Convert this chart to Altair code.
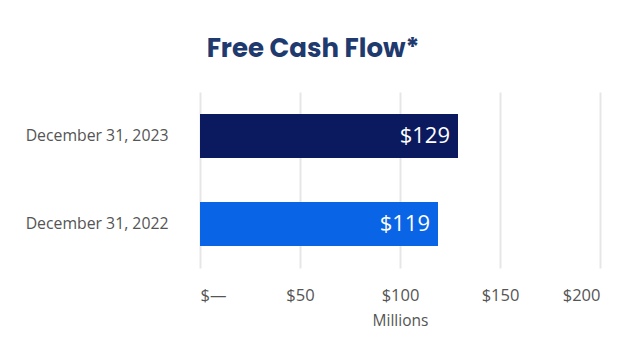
import altair as alt
import pandas as pd

categories = ["December 31, 2023", "December 31, 2022"]
values = [129, 119]
labels = ["$129", "$119"]
colors = ["#0b1a5e", "#0a64e6"]

df = pd.DataFrame({"cat": categories, "val": values, "lab": labels, "col": colors})

FONT = "Open Sans"

base = alt.Chart(df).encode(
    y=alt.Y("cat:N", sort=categories, title=None,
            scale=alt.Scale(paddingInner=0.5, paddingOuter=0.25),
            axis=alt.Axis(labelFontSize=15.8, labelColor="#555555", labelFont=FONT,
                          ticks=False, domain=False, grid=False, labelPadding=32)),
)

bars = base.mark_bar().encode(
    x=alt.X("val:Q", scale=alt.Scale(domain=[0, 200]), title="Millions",
            axis=alt.Axis(values=[0, 50, 100, 150, 200],
                          labelExpr="datum.value == 0 ? '$—' : '$' + datum.value",
                          labelFontSize=16.5, labelColor="#555555", labelFont=FONT,
                          titleFontSize=15.5, titleColor="#555555", titleFont=FONT,
                          titleFontWeight="normal", titlePadding=10,
                          ticks=False, domain=False, gridColor="#e6e6e6", gridWidth=2,
                          labelPadding=19)),
    color=alt.Color("col:N", scale=None),
)

text = base.mark_text(align="right", dx=-8, color="white", fontSize=22, font=FONT).encode(
    x="val:Q", text="lab:N"
)

chart = (bars + text).properties(
    width=400, height=176,
    title=alt.TitleParams("Free Cash Flow*", fontSize=26, font="Poppins, Inter, sans-serif",
                          fontWeight="bold", color="#1f3a6e", anchor="middle",
                          dx=-87, offset=30),
    autosize=alt.AutoSizeParams(type="none"),
    padding={"left": 192, "top": 84, "right": 22, "bottom": 76},
).configure_view(stroke=None)

chart.save("out.html", embed_options={"renderer": "svg", "actions": False})
